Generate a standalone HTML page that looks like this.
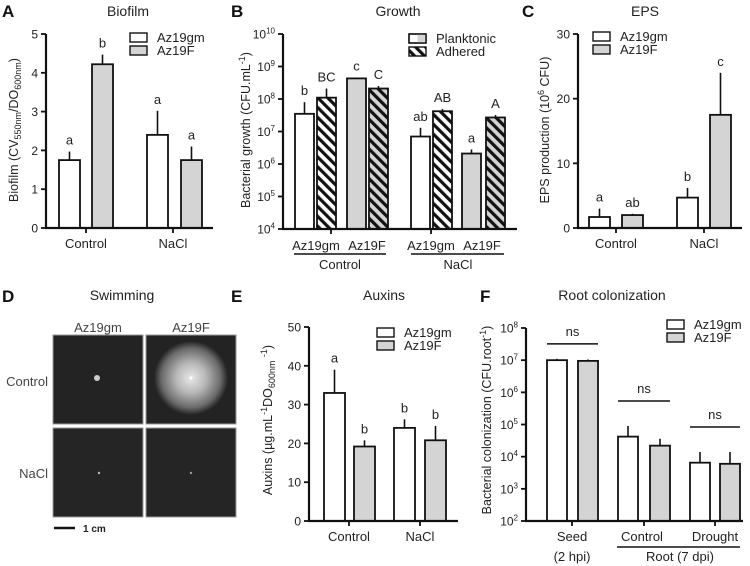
<!DOCTYPE html>
<html><head><meta charset="utf-8"><style>
body{margin:0;background:#fff}
svg{display:block;font-family:"Liberation Sans",sans-serif}
</style></head><body>
<svg id="fig" width="750" height="566" viewBox="0 0 750 566" xmlns="http://www.w3.org/2000/svg">
<defs>
<pattern id="hatchW" patternUnits="userSpaceOnUse" width="7" height="7" patternTransform="rotate(-45)">
<rect width="7" height="7" fill="#fff"/><rect width="3.2" height="7" fill="#111"/></pattern>
<pattern id="hatchG" patternUnits="userSpaceOnUse" width="7" height="7" patternTransform="rotate(-45)">
<rect width="7" height="7" fill="#d4d4d4"/><rect width="3.2" height="7" fill="#111"/></pattern>
<radialGradient id="halo"><stop offset="0" stop-color="#e8e8e8"/><stop offset="0.4" stop-color="#b8b8b8"/><stop offset="0.8" stop-color="#6a6a6a"/><stop offset="1" stop-color="#232323"/></radialGradient>
</defs>
<g font-weight="bold" font-size="17" fill="#111">
<text x="2" y="17">A</text>
<text x="231" y="17">B</text>
<text x="522" y="17">C</text>
<text x="2" y="302">D</text>
<text x="231" y="302">E</text>
<text x="480" y="302">F</text>
</g>
<g font-size="14" fill="#222" text-anchor="middle">
<text x="128" y="16">Biofilm</text>
<text x="398" y="16">Growth</text>
<text x="645" y="16">EPS</text>
<text x="122" y="300">Swimming</text>
<text x="384" y="300">Auxins</text>
<text x="612" y="300">Root colonization</text>
</g>
<g>
<rect x="53" y="335" width="90" height="89" fill="#232323" stroke="#999"/>
<rect x="146" y="335" width="90" height="89" fill="#232323" stroke="#999"/>
<rect x="53" y="428" width="90" height="89" fill="#252525" stroke="#999"/>
<rect x="146" y="428" width="90" height="89" fill="#252525" stroke="#999"/>
<circle cx="97" cy="378" r="3" fill="#ccc"/>
<circle cx="191" cy="378" r="37" fill="url(#halo)"/>
<circle cx="191" cy="378" r="1.5" fill="#fff"/>
<circle cx="99" cy="473" r="1.2" fill="#bbb"/>
<circle cx="191" cy="473" r="1.2" fill="#999"/>
<text x="98" y="332" font-size="13" fill="#444" text-anchor="middle">Az19gm</text>
<text x="191" y="332" font-size="13" fill="#444" text-anchor="middle">Az19F</text>
<text x="48" y="386" font-size="13" fill="#444" text-anchor="end">Control</text>
<text x="48" y="478" font-size="13" fill="#444" text-anchor="end">NaCl</text>
<line x1="54" y1="528" x2="75" y2="528" stroke="#111" stroke-width="2.5"/>
<text x="83" y="532" font-size="10" font-weight="bold" fill="#222">1 cm</text>
</g>
<g id="charts"></g>
</svg>
<script>
// Panel A: Biofilm
const aGroups = ["Control","NaCl"];
const aAz19gm = [1.75, 2.4];
const aAz19gmErr = [0.22, 0.62];
const aAz19F = [4.22, 1.75];
const aAz19FErr = [0.25, 0.35];
const aLetters = ["a","b","a","a"];
const aTicks = [0,1,2,3,4,5];
// Panel B: Growth (log)
const bValues = [3.5e7, 1.1e8, 4.3e8, 2.1e8, 7e6, 4.2e7, 2.1e6, 2.7e7];
const bErrTop = [8e7, 2.1e8, 4.6e8, 2.5e8, 1.3e7, 4.9e7, 2.8e6, 3.2e7];
const bLetters = ["b","BC","c","C","ab","AB","a","A"];
const bStrains = ["Az19gm","Az19F","Az19gm","Az19F"];
const bGroups = ["Control","NaCl"];
const bTickExp = [4,5,6,7,8,9,10];
// Panel C: EPS
const cGroups = ["Control","NaCl"];
const cAz19gm = [1.7, 4.7];
const cAz19gmErr = [1.3, 1.5];
const cAz19F = [2.0, 17.5];
const cAz19FErr = [0.2, 6.5];
const cLetters = ["a","ab","b","c"];
const cTicks = [0,10,20,30];
// Panel E: Auxins
const eGroups = ["Control","NaCl"];
const eAz19gm = [33, 24];
const eAz19gmErr = [6, 2.2];
const eAz19F = [19.2, 20.8];
const eAz19FErr = [1.6, 3.7];
const eLetters = ["a","b","b","b"];
const eTicks = [0,10,20,30,40,50];
// Panel F: Root colonization (log)
const fGroups = ["Seed","Control","Drought"];
const fAz19gm = [1e7, 4.2e4, 6.5e3];
const fAz19gmErrTop = [1.1e7, 9e4, 1.4e4];
const fAz19F = [9.5e6, 2.2e4, 6e3];
const fAz19FErrTop = [1.05e7, 3.6e4, 1.4e4];
const fTickExp = [2,3,4,5,6,7,8];

const NS="http://www.w3.org/2000/svg";
const root=document.getElementById('charts');
function mk(tag,attrs,parent,text){const e=document.createElementNS(NS,tag);for(const k in attrs)e.setAttribute(k,attrs[k]);if(text!==undefined)e.textContent=text;(parent||root).appendChild(e);return e;}
function linY(v0,v1,p0,p1){return v=>p0+(v-v0)*(p1-p0)/(v1-v0);}
function logY(e0,e1,p0,p1){return v=>p0+(Math.log10(v)-e0)*(p1-p0)/(e1-e0);}

function axes(g,ax,y0,yTop,xEnd,ticks,sy,labelFn,xTicks){
  const l=mk('line',{x1:ax,y1:yTop,x2:ax,y2:y0,stroke:'#111','stroke-width':2.2},g);
  
  
  const b=mk('line',{x1:ax-1,y1:y0,x2:xEnd,y2:y0,stroke:'#111','stroke-width':2.2},g);
  
  
  ticks.forEach(t=>{const y=sy(t);mk('line',{x1:ax-5,y1:y,x2:ax,y2:y,stroke:'#111','stroke-width':1.8},g);labelFn(t,y);});
  (xTicks||[]).forEach(x=>mk('line',{x1:x,y1:y0,x2:x,y2:y0+5,stroke:'#111','stroke-width':1.8},g));
}
function bar(g,x0,x1,y0,yv,yerr,fill,name){
  if(yerr!==null){const xm=(x0+x1)/2;mk('line',{x1:xm,y1:yv,x2:xm,y2:yerr,stroke:'#111','stroke-width':1.6},g);}
  const r=mk('rect',{x:x0,y:yv,width:x1-x0,height:y0-yv,fill:fill,stroke:'#111','stroke-width':1.8},g);
  
  
}
function letter(g,x,y,t){const e=mk('text',{x:x,y:y,'font-size':13,'text-anchor':'middle',fill:'#222'},g,t);}
function legend(g,x,y,items){
  items.forEach((it,i)=>{const yy=y+i*13;
    const r=mk('rect',{x:x,y:yy,width:17,height:9,fill:it[1],stroke:'#111','stroke-width':1.4},g);
    
    
    const t=mk('text',{x:x+27,y:yy+9,'font-size':13,fill:'#222'},g,it[0]);
    
    });
}
function linTickLabel(g,ax){return (t,y)=>mk('text',{x:ax-8,y:y+4.5,'font-size':12,'text-anchor':'end',fill:'#222'},g,String(t));}
function logTickLabel(g,ax){return (t,y)=>{const ex=Math.round(Math.log10(t));const e=mk('text',{x:ax-8,y:y+4.5,'font-size':12,'text-anchor':'end',fill:'#222'},g);mk('tspan',{},e,'10');mk('tspan',{dy:-5,'font-size':8},e,String(ex));};}
function ylabel(g,x,y,parts,name){
  const t=mk('text',{transform:`translate(${x},${y}) rotate(-90)`,'font-size':12.5,'text-anchor':'middle',fill:'#222'},g);
  
  
  parts.forEach(p=>{const s=mk('tspan',{},t,p[0]);if(p[1]==='sub'){s.setAttribute('font-size',9);s.setAttribute('dy',3);}else if(p[1]==='sup'){s.setAttribute('font-size',9);s.setAttribute('dy',-5);}else if(p[1]==='base'){s.setAttribute('dy',p[2]);}});
}
function grouped(g,sy,y0,xs,w,gm,gmErr,F,FErr,letters,prefix){
  for(let i=0;i<gm.length;i++){
    const xa=xs[i][0],xb=xs[i][1];
    const ya=sy(gm[i]),ea=sy(gm[i]+gmErr[i]);
    const yb=sy(F[i]),eb=sy(F[i]+FErr[i]);
    bar(g,xa,xa+w,y0,ya,ea,'#fff',prefix+'-az19gm-'+i);
    bar(g,xb,xb+w,y0,yb,eb,'#d4d4d4',prefix+'-az19f-'+i);
    letter(g,xa+w/2,ea-7,letters[2*i]);letter(g,xb+w/2,eb-7,letters[2*i+1]);
  }
}

// ---- Panel A
(function(){const g=mk('g',{});
 const sy=linY(0,5,228,34),ax=46;
 grouped(g,sy,228,[[59,92],[147,181]],21,aAz19gm,aAz19gmErr,aAz19F,aAz19FErr,aLetters,'bar-biofilm');
 axes(g,ax,228,34,213,aTicks,sy,linTickLabel(g,ax),[86,173]);
 [86,173].forEach((x,i)=>mk('text',{x:x,y:248,'font-size':13,'text-anchor':'middle',fill:'#222'},g,aGroups[i]));
 ylabel(g,18,130,[['Biofilm (CV'],['550nm','sub'],['/DO','base',-3],['600nm','sub'],[')','base',-3]],'y-axis-title-biofilm');
 legend(g,130,33,[['Az19gm','#fff'],['Az19F','#d4d4d4']]);
})();

// ---- Panel B
(function(){const g=mk('g',{});
 const sy=logY(4,10,229,34),ax=283,y0=229;
 const xs=[295,317,347,369,411,433,462,486],w=19;
 const fills=['#fff','url(#hatchW)','#d4d4d4','url(#hatchG)','#fff','url(#hatchW)','#d4d4d4','url(#hatchG)'];
 bValues.forEach((v,i)=>{const y=sy(v),e=sy(bErrTop[i]);bar(g,xs[i],xs[i]+w,y0,y,e,fills[i],'bar-growth-'+i);letter(g,xs[i]+w/2,e-7,bLetters[i]);});
 axes(g,ax,y0,34,517,bTickExp.map(e=>Math.pow(10,e)),sy,logTickLabel(g,ax),[331,431]);
 [316,367,431,482].forEach((x,i)=>mk('text',{x:x,y:250,'font-size':13,'text-anchor':'middle',fill:'#222'},g,bStrains[i]));
 [[294,386],[411,504]].forEach(p=>mk('line',{x1:p[0],y1:254,x2:p[1],y2:254,stroke:'#111','stroke-width':1.5},g));
 [340,458].forEach((x,i)=>mk('text',{x:x,y:269,'font-size':13,'text-anchor':'middle',fill:'#222'},g,bGroups[i]));
 ylabel(g,250,130,[['Bacterial growth (CFU.mL'],['-1','sup'],[')','base',5]],'y-axis-title-growth');
 legend(g,409,34,[['Planktonic','#fff'],['Adhered','url(#hatchW)']]);
 mk('rect',{x:417.5,y:34,width:8.5,height:9,fill:'#d4d4d4'},g);
 mk('rect',{x:409,y:34,width:17,height:9,fill:'none',stroke:'#111','stroke-width':1.4},g);
})();

// ---- Panel C
(function(){const g=mk('g',{});
 const sy=linY(0,30,228,34),ax=578;
 grouped(g,sy,228,[[589,622],[677,710]],21,cAz19gm,cAz19gmErr,cAz19F,cAz19FErr,cLetters,'bar-eps');
 axes(g,ax,228,34,742,cTicks,sy,linTickLabel(g,ax),[616,704]);
 [616,704].forEach((x,i)=>mk('text',{x:x,y:248,'font-size':13,'text-anchor':'middle',fill:'#222'},g,cGroups[i]));
 ylabel(g,549,130,[['EPS production (10'],['6','sup'],[' CFU)','base',5]],'y-axis-title-eps');
 legend(g,593,32,[['Az19gm','#fff'],['Az19F','#d4d4d4']]);
})();

// ---- Panel E
(function(){const g=mk('g',{});
 const sy=linY(0,50,521,327),ax=309;
 grouped(g,sy,521,[[324,354],[394,425]],21,eAz19gm,eAz19gmErr,eAz19F,eAz19FErr,eLetters,'bar-auxins');
 axes(g,ax,521,327,458,eTicks,sy,linTickLabel(g,ax),[349,420]);
 [349,420].forEach((x,i)=>mk('text',{x:x,y:541,'font-size':13,'text-anchor':'middle',fill:'#222'},g,eGroups[i]));
 ylabel(g,272,420,[['Auxins (µg.mL'],['-1','sup'],['DO','base',5],['600nm','sub'],[' ','base',-3],['-1','sup'],[')','base',5]],'y-axis-title-auxins');
 legend(g,377,328,[['Az19gm','#fff'],['Az19F','#d4d4d4']]);
})();

// ---- Panel F
(function(){const g=mk('g',{});
 const sy=logY(2,8,521,328),ax=526,y0=521,w=20;
 const xa=[547,618,690],xb=[578,650,720];
 fAz19gm.forEach((v,i)=>{bar(g,xa[i],xa[i]+w,y0,sy(v),sy(fAz19gmErrTop[i]),'#fff','bar-colonization-az19gm-'+i);bar(g,xb[i],xb[i]+w,y0,sy(fAz19F[i]),sy(fAz19FErrTop[i]),'#d4d4d4','bar-colonization-az19f-'+i);
   const top=Math.min(sy(fAz19gmErrTop[i]),sy(fAz19FErrTop[i]))-(i===0?15:25);
   mk('line',{x1:xa[i],y1:top,x2:xb[i]+w,y2:top,stroke:'#111','stroke-width':1.5},g);
   letter(g,(xa[i]+xb[i]+w)/2,top-8,'ns');});
 axes(g,ax,y0,328,743,fTickExp.map(e=>Math.pow(10,e)),sy,logTickLabel(g,ax),[572,644,715]);
 [572,642,715].forEach((x,i)=>mk('text',{x:x,y:541,'font-size':13,'text-anchor':'middle',fill:'#222'},g,fGroups[i]));
 mk('text',{x:572,y:561,'font-size':13,'text-anchor':'middle',fill:'#222'},g,'(2 hpi)');
 mk('line',{x1:617,y1:547,x2:740,y2:547,stroke:'#111','stroke-width':1.5},g);
 mk('text',{x:680,y:561,'font-size':13,'text-anchor':'middle',fill:'#222'},g,'Root (7 dpi)');
 ylabel(g,491,420,[['Bacterial colonization (CFU.root'],['-1','sup'],[')','base',5]],'y-axis-title-colonization');
 legend(g,667,320,[['Az19gm','#fff'],['Az19F','#d4d4d4']]);
})();
</script>
</body></html>
